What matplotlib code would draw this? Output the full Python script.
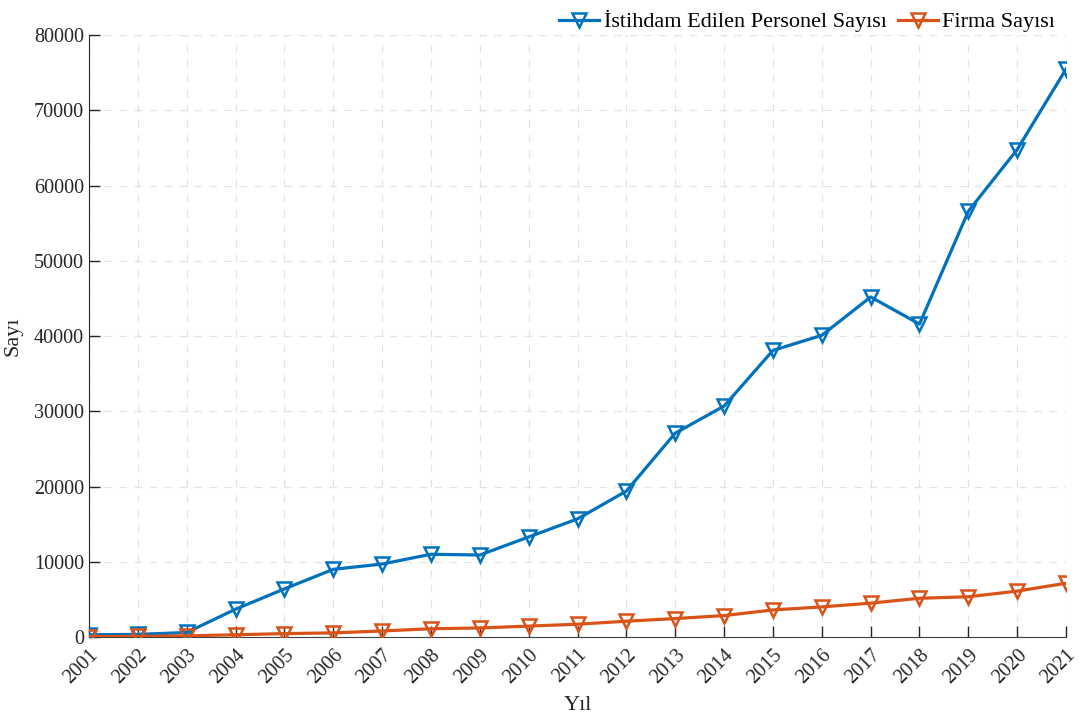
import numpy as np
import matplotlib
matplotlib.use("Agg")
import matplotlib.pyplot as plt

years = list(range(2001, 2022))
personel = [300, 350, 600, 3700, 6400, 9000, 9700, 11000, 10900, 13300, 15700,
            19400, 27100, 30700, 38100, 40100, 45200, 41600, 56600, 64800, 75500]
firma = [50, 80, 150, 300, 450, 550, 800, 1100, 1200, 1450, 1700,
         2100, 2450, 2850, 3600, 4000, 4500, 5150, 5350, 6100, 7150]
labels = ["İstihdam Edilen Personel Sayısı", "Firma Sayısı"]

plt.rcParams["font.family"] = ["Liberation Serif", "DejaVu Serif"]

fig = plt.figure(figsize=(10.79, 7.18), dpi=100)
ax = fig.add_axes([0.0825, 0.1128, 0.9055, 0.8382])

ax.plot(years, personel, "-v", color="#0072BD", lw=2.3, ms=10, mfc="none",
        mew=1.8, label=labels[0], zorder=3)
ax.plot(years, firma, "-v", color="#D95319", lw=2.3, ms=10, mfc="none",
        mew=1.8, label=labels[1], zorder=3)

ax.set_xlim(2001, 2021)
ax.set_ylim(0, 80000)
ax.set_xticks(years)
ax.set_xticklabels([str(y) for y in years], rotation=45, ha="right",
                   rotation_mode="anchor")
ax.set_yticks(np.arange(0, 80001, 10000))
ax.tick_params(direction="in", length=8, width=1, labelsize=14.5, colors="#262626")
ax.tick_params(axis="x", pad=6)
ax.grid(True, ls=(0, (6, 6)), color="#e3e3e3", lw=0.9)
ax.set_axisbelow(True)
for s in ["top", "right"]:
    ax.spines[s].set_visible(False)
ax.spines["left"].set_color("#262626")
ax.spines["bottom"].set_color("#404040")

ax.set_ylabel("Sayı", fontsize=16, color="#262626", labelpad=8)
ax.set_xlabel("Yıl", fontsize=16, color="#262626", labelpad=6)

ax.legend(loc="lower right", bbox_to_anchor=(0.998, 0.99), ncol=2, frameon=False,
          fontsize=16, handlelength=1.8, handletextpad=0.2, columnspacing=0.5,
          borderaxespad=0.0)

fig.savefig("out.png", dpi=100)
